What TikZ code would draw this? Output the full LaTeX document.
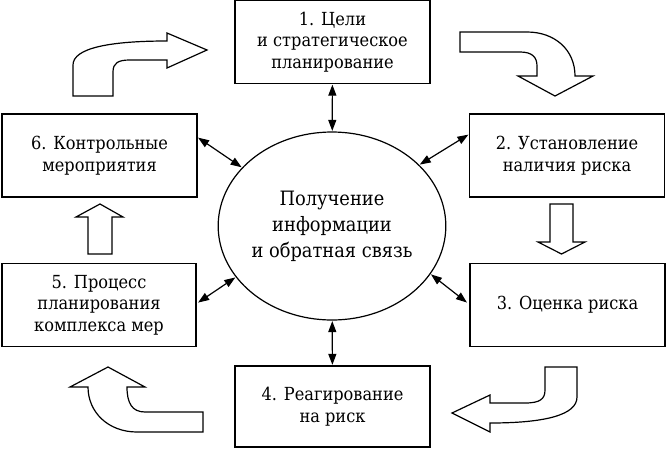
\documentclass[tikz,border=0pt]{standalone}
\usepackage{fontspec}
\setmainfont{DejaVu Serif}[FakeStretch=0.9]
\usetikzlibrary{arrows.meta,calc,shapes.geometric}
\begin{document}
\begin{tikzpicture}[x=1pt,y=-1pt,
  box/.style={draw,line width=1.3pt,rectangle,minimum width=195pt,minimum height=83pt,inner sep=0pt,align=center,font=\fontsize{18}{21.5}\selectfont},
  ell/.style={draw,line width=1.2pt,ellipse,minimum width=219pt,minimum height=188pt,inner sep=0pt,align=center,font=\fontsize{19.8}{26}\selectfont},
  link/.style={line width=1.2pt,{Triangle[length=11pt,width=8pt]}-{Triangle[length=11pt,width=8pt]},shorten <=0.5pt,shorten >=0.5pt},
  blk/.style={draw,line width=1.2pt,line join=miter,fill=white}]
\useasboundingbox (0,0) rectangle (666,450);
\node[box] (b1) at (332.5,42) {1. Цели\\и стратегическое\\планирование};
\node[box] (b2) at (567,155.5) {2. Установление\\наличия риска};
\node[box] (b3) at (567.5,305) {3. Оценка риска};
\node[box,minimum height=81pt] (b4) at (332.5,406.5) {4. Реагирование\\на риск};
\node[box,minimum width=194pt] (b5) at (99,305) {5. Процесс\\планирования\\комплекса мер};
\node[box] (b6) at (99.5,155.5) {6. Контрольные\\мероприятия};
\node[ell] (c) at (332,226) {Получение\\информации\\и обратная связь};
% connectors
\draw[link] (b1) -- (c);
\draw[link] (c) -- (b4);
\draw[link] ($(b6.north east)+(0,24)$) -- (c.147);
\draw[link] ($(b2.north west)+(0,21)$) -- (c.35);
\draw[link] ($(b5.north east)+(1,40)$) -- (c.208);
\draw[link] ($(b3.north west)+(-2,40)$) -- (c.334);
% block arrows
\draw[blk] (73,96) -- (73,65) .. controls (73,48) and (110,41) .. (167,41) -- (167,33) -- (207,50) -- (167,68) -- (167,60) -- (130,60) .. controls (118,60) and (113,63) .. (113,72) -- (113,96) -- cycle;
\draw[blk] (460,32) -- (527,32) .. controls (555,32) and (575,50) .. (575,76) -- (593,76) -- (555,96) -- (518,76) -- (537,76) -- (537,66) .. controls (537,57) and (532,52) .. (520,52) -- (460,52) -- cycle;
\draw[blk] (545,367) -- (577,367) -- (577,397) .. controls (577,415) and (545,423) .. (490,423) -- (490,432) -- (452,413) -- (490,395) -- (490,403) -- (525,403) .. controls (540,403) and (545,399) .. (545,390) -- cycle;
\draw[blk] (203,412) -- (203,432) -- (137,432) .. controls (108,432) and (88,412) .. (88,387) -- (70,387) -- (108,367) -- (145,387) -- (127,387) .. controls (127,403) and (132,412) .. (145,412) -- cycle;
\draw[blk] (88,254) -- (88,217) -- (76,217) -- (100,204) -- (123,217) -- (112,217) -- (112,254) -- cycle;
\draw[blk] (550,204) -- (573,204) -- (573,242) -- (585,242) -- (561.5,254) -- (538,242) -- (550,242) -- cycle;
\end{tikzpicture}
\end{document}
